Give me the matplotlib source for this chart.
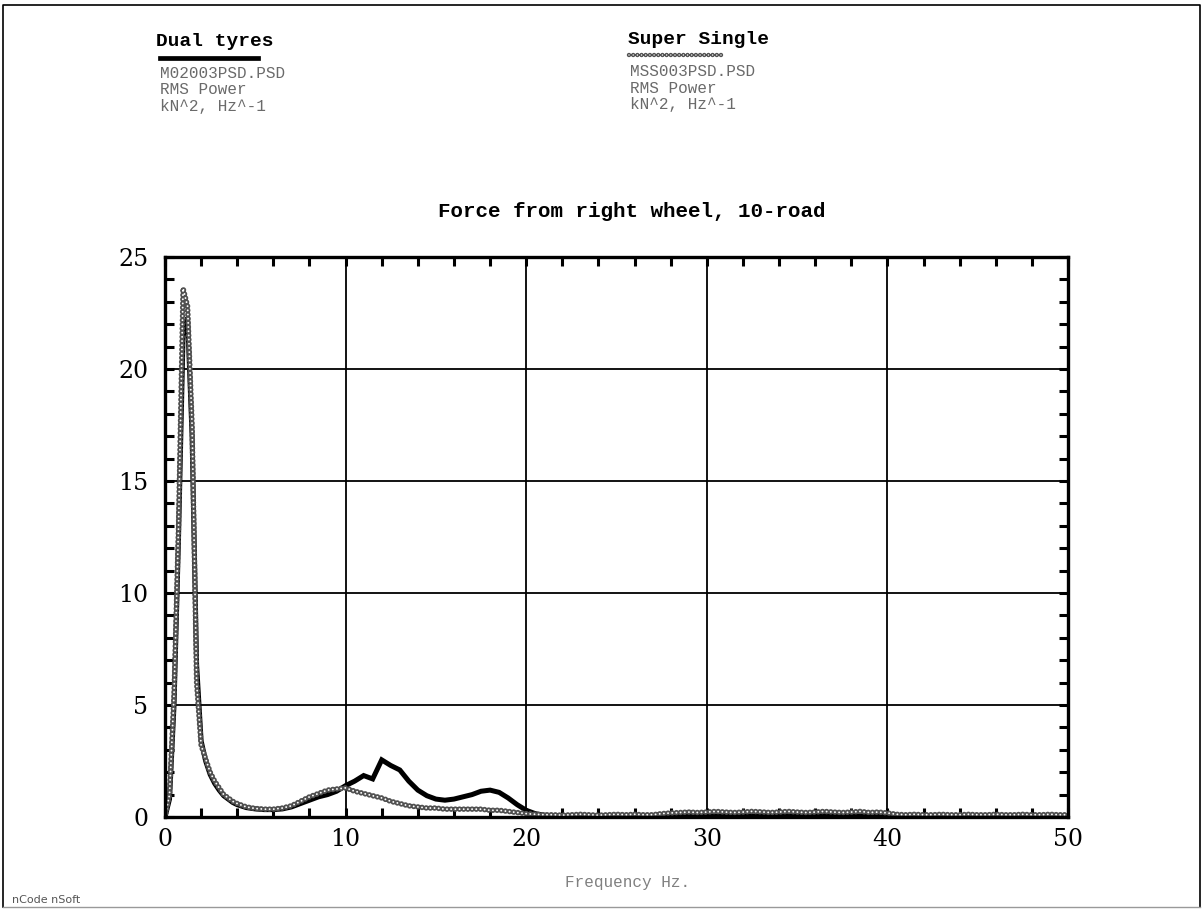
import numpy as np
import matplotlib
matplotlib.use("Agg")
import matplotlib.pyplot as plt
from matplotlib.lines import Line2D
from matplotlib.ticker import MultipleLocator

# ---------------- data ----------------
freq = np.concatenate([np.arange(0, 4, 0.25), np.arange(4, 50.01, 0.5)])

super_single = [
    0.0, 1.0, 5.5, 13.0, 23.6, 22.8, 17.5, 6.0, 3.2, 2.6, 2.0, 1.6, 1.3, 1.0, 0.85, 0.7,
    0.6, 0.45, 0.38, 0.35, 0.35, 0.4, 0.5, 0.7, 0.9, 1.05,
    1.2, 1.25, 1.3, 1.15, 1.05, 0.95, 0.85, 0.7, 0.6, 0.5,
    0.45, 0.4, 0.4, 0.35, 0.35, 0.35, 0.35, 0.35, 0.3, 0.3,
    0.25, 0.2, 0.15,
    0.12, 0.1, 0.1, 0.08, 0.1, 0.12, 0.1, 0.08, 0.1, 0.12, 0.1, 0.12, 0.1, 0.1, 0.15,
    0.18, 0.2, 0.22, 0.2, 0.22, 0.25, 0.22, 0.2, 0.22, 0.25,
    0.23, 0.2, 0.22, 0.25, 0.22, 0.2, 0.22, 0.25, 0.22, 0.2,
    0.22, 0.25, 0.2, 0.22, 0.18,
    0.12, 0.1, 0.12, 0.1, 0.1, 0.12, 0.1, 0.1, 0.12, 0.1,
    0.1, 0.12, 0.1, 0.1, 0.12, 0.1, 0.1, 0.12, 0.1, 0.1,
]

dual_tyres = [
    0.0, 0.8, 5.0, 12.5, 21.5, 22.3, 17.0, 6.8, 3.4, 2.5, 1.9, 1.5, 1.2, 0.95, 0.8, 0.65,
    0.55, 0.42, 0.36, 0.33, 0.33, 0.36, 0.45, 0.6, 0.75, 0.9,
    1.0, 1.15, 1.4, 1.6, 1.85, 1.7, 2.55, 2.3, 2.1, 1.6,
    1.2, 0.95, 0.8, 0.75, 0.8, 0.9, 1.0, 1.15, 1.2, 1.1,
    0.85, 0.55, 0.3,
    0.15, 0.08,
    0.05, 0.04, 0.05, 0.06, 0.05, 0.04, 0.05, 0.05, 0.06, 0.05,
    0.04, 0.05, 0.06, 0.05, 0.04, 0.05, 0.05, 0.06, 0.05, 0.04,
    0.05, 0.06, 0.05, 0.04, 0.05, 0.05, 0.06, 0.05, 0.04, 0.05,
    0.06, 0.05, 0.04, 0.05, 0.05, 0.06, 0.05, 0.04, 0.05, 0.06,
    0.05, 0.04, 0.05, 0.05, 0.06, 0.05, 0.04, 0.05, 0.06, 0.05,
    0.04, 0.05, 0.05, 0.06, 0.05, 0.04, 0.05, 0.05,
]

x_ticks = [0, 10, 20, 30, 40, 50]
y_ticks = [0, 5, 10, 15, 20, 25]

title = "Force from right wheel, 10-road"
x_label = "Frequency Hz."
legend_dual = ["Dual tyres", "M02003PSD.PSD", "RMS Power", "kN^2, Hz^-1"]
legend_ss = ["Super Single", "MSS003PSD.PSD", "RMS Power", "kN^2, Hz^-1"]

# ---------------- figure ----------------
plt.rcParams["lines.scale_dashes"] = False
plt.rcParams["font.family"] = ["DejaVu Serif"]
MONO = ["Liberation Mono", "DejaVu Sans Mono"]

W, H = 1204, 910
fig = plt.figure(figsize=(W / 100, H / 100), dpi=100)
fig.patch.set_facecolor("white")


def fp(x, y):
    return x / W, 1 - y / H


ax_l, ax_r, ax_t, ax_b = 165, 1068, 257, 817
ax = fig.add_axes([ax_l / W, 1 - ax_b / H, (ax_r - ax_l) / W, (ax_b - ax_t) / H])

ring = (0, (0.01, 3.0))
ring_col = "#505050"
ax.plot(freq, dual_tyres, color="black", lw=3.6, zorder=3, solid_joinstyle="miter")
ax.plot(freq, super_single, color=ring_col, lw=4.0, ls=ring,
        dash_capstyle="round", zorder=4)
ax.plot(freq, super_single, color="white", lw=1.4, ls=ring,
        dash_capstyle="round", zorder=5)

ax.set_xlim(0, 50)
ax.set_ylim(0, 25)
ax.set_xticks(x_ticks)
ax.set_yticks(y_ticks)
ax.xaxis.set_minor_locator(MultipleLocator(2))
ax.yaxis.set_minor_locator(MultipleLocator(1))
ax.grid(True, which="major", color="black", lw=1.3, zorder=1)
for s in ax.spines.values():
    s.set_linewidth(2.4)
    s.set_zorder(6)
ax.tick_params(which="both", direction="in", top=True, right=True,
               width=2.2, length=6.5, labelsize=17)
ax.tick_params(axis="x", which="both", pad=8)
ax.tick_params(axis="y", which="both", pad=12)
for lab in ax.get_xticklabels() + ax.get_yticklabels():
    lab.set_family("DejaVu Serif")

# title and axis label
fig.text(*fp(632, 211), title, ha="center", va="center", fontsize=15,
         family=MONO, weight="bold")
fig.text(*fp(628, 883), x_label, ha="center", va="center", fontsize=11.5,
         color="#808080", family=MONO)
fig.text(*fp(12, 900), "nCode nSoft", ha="left", va="center", fontsize=8,
         color="#555555", family="DejaVu Sans")

# legend block (dual)
fig.text(*fp(156, 42), legend_dual[0], ha="left", va="center", fontsize=14,
         family=MONO, weight="bold")
fig.add_artist(Line2D([160 / W, 258 / W], [1 - 58 / H, 1 - 58 / H],
                      color="black", lw=3.4, transform=fig.transFigure))
for i, t in enumerate(legend_dual[1:]):
    fig.text(*fp(160, 73 + 16.5 * i), t, ha="left", va="center", fontsize=11.5,
             color="#6a6a6a", family=MONO)

# legend block (super single)
fig.text(*fp(628, 40), legend_ss[0], ha="left", va="center", fontsize=14,
         family=MONO, weight="bold")
fig.add_artist(Line2D([629 / W, 722 / W], [1 - 55 / H, 1 - 55 / H],
                      color=ring_col, lw=3.2, ls=ring, dash_capstyle="round",
                      transform=fig.transFigure))
fig.add_artist(Line2D([629 / W, 722 / W], [1 - 55 / H, 1 - 55 / H],
                      color="white", lw=1.1, ls=ring, dash_capstyle="round",
                      transform=fig.transFigure))
for i, t in enumerate(legend_ss[1:]):
    fig.text(*fp(630, 72 + 16.5 * i), t, ha="left", va="center", fontsize=11.5,
             color="#6a6a6a", family=MONO)

# page frame
fig.add_artist(Line2D([3 / W, 3 / W, 1200 / W, 1200 / W],
                      [1 - 907 / H, 1 - 5 / H, 1 - 5 / H, 1 - 907 / H],
                      color="black", lw=1.2, transform=fig.transFigure))
fig.add_artist(Line2D([3 / W, 1200 / W], [1 - 907 / H, 1 - 907 / H],
                      color="#999999", lw=1.0, transform=fig.transFigure))

fig.savefig("out.png", dpi=100, facecolor="white")
